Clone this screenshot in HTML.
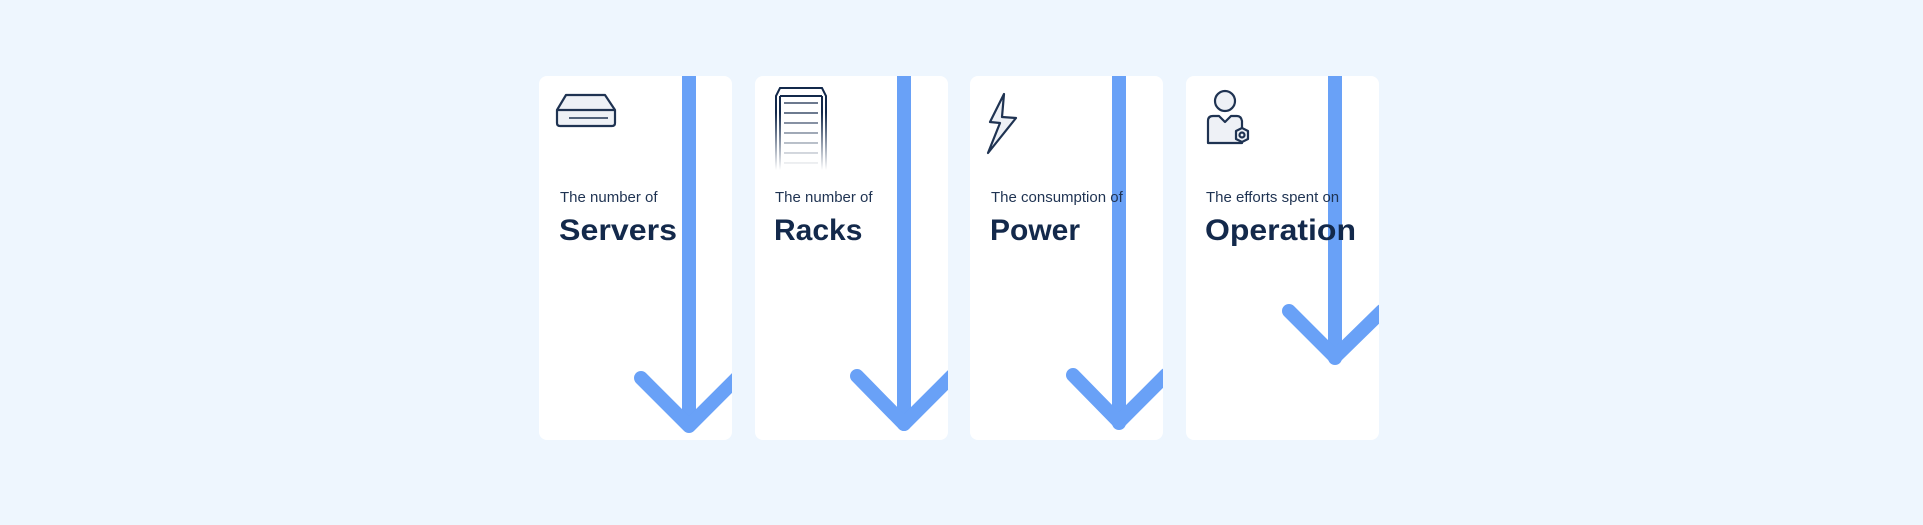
<!DOCTYPE html>
<html><head><meta charset="utf-8"><style>
html,body{margin:0;padding:0;background:#eef6fe;}
svg{display:block}
text{font-family:"Liberation Sans",sans-serif;}
</style></head><body>
<svg width="1923" height="525" viewBox="0 0 1923 525">
<defs>
<clipPath id="c1"><rect x="539" y="76" width="193" height="364" rx="8"/></clipPath>
<clipPath id="c2"><rect x="755" y="76" width="193" height="364" rx="8"/></clipPath>
<clipPath id="c3"><rect x="970" y="76" width="193" height="364" rx="8"/></clipPath>
<clipPath id="c4"><rect x="1186" y="76" width="193" height="364" rx="8"/></clipPath>
<linearGradient id="fade" gradientUnits="userSpaceOnUse" x1="0" y1="88" x2="0" y2="170"><stop offset="0.3" stop-color="#13294b" stop-opacity="1"/><stop offset="1" stop-color="#13294b" stop-opacity="0"/></linearGradient>
</defs>
<rect width="1923" height="525" fill="#eef6fe"/>
<g fill="#fff">
<rect x="539" y="76" width="193" height="364" rx="8"/>
<rect x="755" y="76" width="193" height="364" rx="8"/>
<rect x="970" y="76" width="193" height="364" rx="8"/>
<rect x="1186" y="76" width="193" height="364" rx="8"/>
</g>
<!-- icons -->
<g fill="#eef1f6" stroke="#1f3352" stroke-width="2.2" stroke-linejoin="round">
<path d="M566 95 L605 95 L615 110 L615 123 Q615 126 612 126 L560 126 Q557 126 557 123 L557 110 Z"/>
<line x1="557" y1="110" x2="615" y2="110"/>
<line x1="569" y1="118" x2="608" y2="118" stroke-width="1.5"/>
<path d="M988 153 L1000 123 L990 122 L1004 94 L1002 117 L1016 118 Z"/>
<circle cx="1225" cy="101" r="10"/>
<path d="M1208 143 L1208 121 Q1208 116 1213 116 L1219 116 L1225 122 L1231 116 L1237 116 Q1241 116 1242 121 L1242 143 Z"/>
<path d="M1242 128 L1248 131 L1248 139 L1242 142 L1236 139 L1236 131 Z"/>
<circle cx="1242" cy="135" r="2.5"/>
</g>
<g fill="none" stroke="url(#fade)" stroke-width="2">
<path d="M776 170 L776 96 L780 88 L822 88 L826 96 L826 170"/>
<path d="M780 96 L822 96 M780 96 L780 170 M822 96 L822 170"/>
<g stroke-width="1.3"><line x1="784" y1="103" x2="818" y2="103"/><line x1="784" y1="113" x2="818" y2="113"/><line x1="784" y1="123" x2="818" y2="123"/><line x1="784" y1="133" x2="818" y2="133"/><line x1="784" y1="143" x2="818" y2="143"/><line x1="784" y1="153" x2="818" y2="153"/><line x1="784" y1="163" x2="818" y2="163"/></g>
</g>
<!-- arrows -->
<g fill="none" stroke="#69a1f7" stroke-width="14" stroke-linecap="round" stroke-linejoin="round">
<g clip-path="url(#c1)"><line x1="689" y1="60" x2="689" y2="425"/><polyline points="641,378 689,426 737,378"/></g>
<g clip-path="url(#c2)"><line x1="904" y1="60" x2="904" y2="424"/><polyline points="857,376 904,424 952,376"/></g>
<g clip-path="url(#c3)"><line x1="1119" y1="60" x2="1119" y2="423"/><polyline points="1073,375 1119,422 1166,375"/></g>
<g clip-path="url(#c4)"><line x1="1335" y1="60" x2="1335" y2="358"/><polyline points="1289,311 1335,357 1382,311"/></g>
</g>
<!-- text -->
<g fill="#1f3352" font-size="15">
<text x="560" y="202">The number of</text>
<text x="775" y="202">The number of</text>
<text x="991" y="202">The consumption of</text>
<text x="1206" y="202">The efforts spent on</text>
</g>
<g fill="#13294b" font-size="30" font-weight="bold">
<text x="559" y="240" textLength="118" lengthAdjust="spacingAndGlyphs">Servers</text>
<text x="774" y="240">Racks</text>
<text x="990" y="240">Power</text>
<text x="1205" y="240" textLength="151" lengthAdjust="spacingAndGlyphs">Operation</text>
</g>
</svg>
</body></html>
